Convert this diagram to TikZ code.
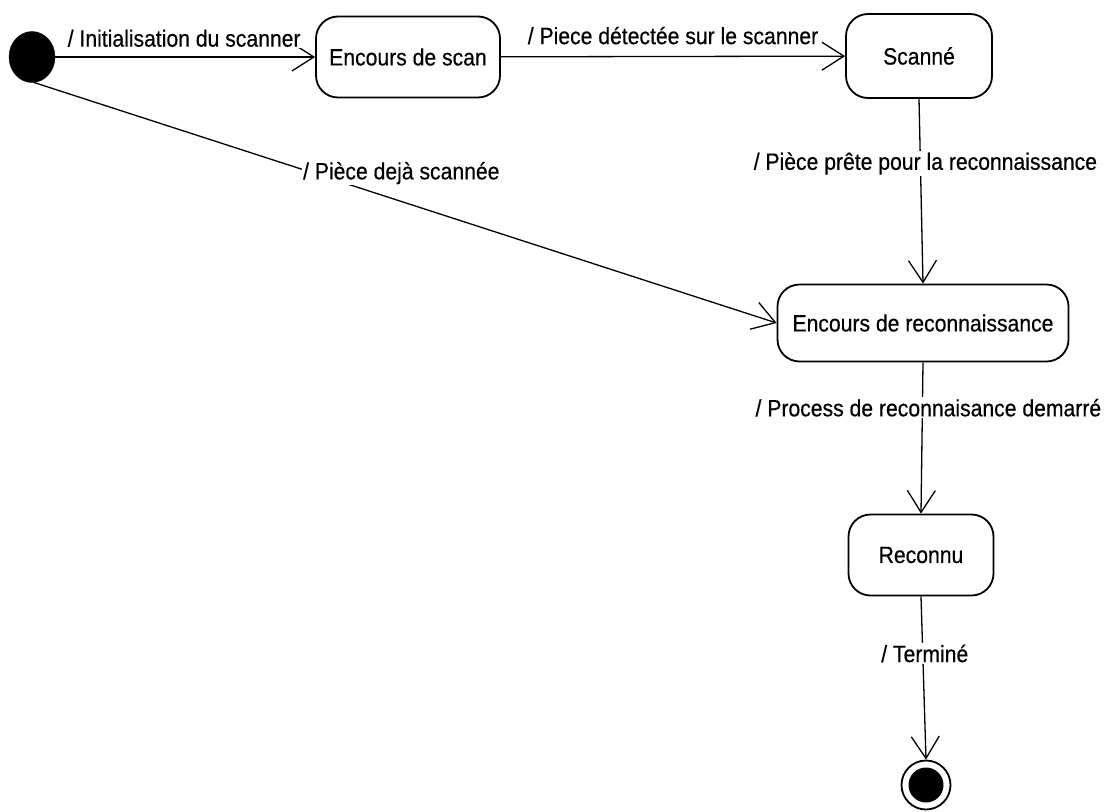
\documentclass[tikz,border=0pt]{standalone}
\usepackage{fontspec}
\setmainfont[FakeStretch=0.9,FakeBold=0.4]{Liberation Sans}
\usetikzlibrary{arrows.meta,shapes.geometric}

\begin{document}
\begin{tikzpicture}[x=1pt,y=-1pt,
  txt/.style={font=\fontsize{23.5}{26}\selectfont},
  state/.style={txt, draw, line width=1.8pt, rounded corners=22pt,
    minimum height=81pt, align=center, fill=white},
  lbl/.style={txt, fill=white, inner sep=1.5pt},
  trans/.style={line width=1.3pt,
    -{Straight Barb[length=22pt,width=28pt,line width=1.3pt]}},
]
\useasboundingbox (0,0) rectangle (1108,811);

% states
\node[draw, fill=black, ellipse, minimum width=46pt, minimum height=51pt,
  inner sep=0pt] (init) at (32,57) {};
\node[state, minimum width=184pt] (scan) at (408,57) {Encours de scan};
\node[state, minimum width=146pt, minimum height=84pt] (scanne) at (919,56) {Scanné};
\node[state, minimum width=291pt, minimum height=77pt] (reco) at (923,323)
  {Encours de reconnaissance};
\node[state, minimum width=145pt] (reconnu) at (921,555) {Reconnu};
\node[circle, draw, line width=1.8pt, fill=white, minimum size=49pt,
  inner sep=0pt] (fin) at (926,785) {};
\node[circle, fill=black, minimum size=35pt, inner sep=0pt] (finin) at (fin) {};

% transitions
\draw[trans] (init) -- (scan)
  node[lbl, midway, above=8pt, xshift=-1pt] {/ Initialisation du scanner};
\draw[trans] (scan) -- (scanne)
  node[lbl, midway, above=10pt] {/ Piece détectée sur le scanner};
\draw[trans] (init.-85) -- (reco.west)
  node[lbl, pos=0.36, anchor=west, inner sep=1pt, yshift=-4pt] {/ Pièce dejà scannée};
\draw[trans] (scanne.south) -- (reco.north)
  node[lbl, pos=0.35, xshift=5pt] {/ Pièce prête pour la reconnaissance};
\draw[trans] (reco.south) -- (reconnu.north)
  node[lbl, pos=0.3, xshift=6pt] {/ Process de reconnaisance demarré};
\draw[trans] (reconnu.south) -- (fin.north)
  node[lbl, pos=0.35, xshift=2pt] {/ Terminé};
\end{tikzpicture}
\end{document}
